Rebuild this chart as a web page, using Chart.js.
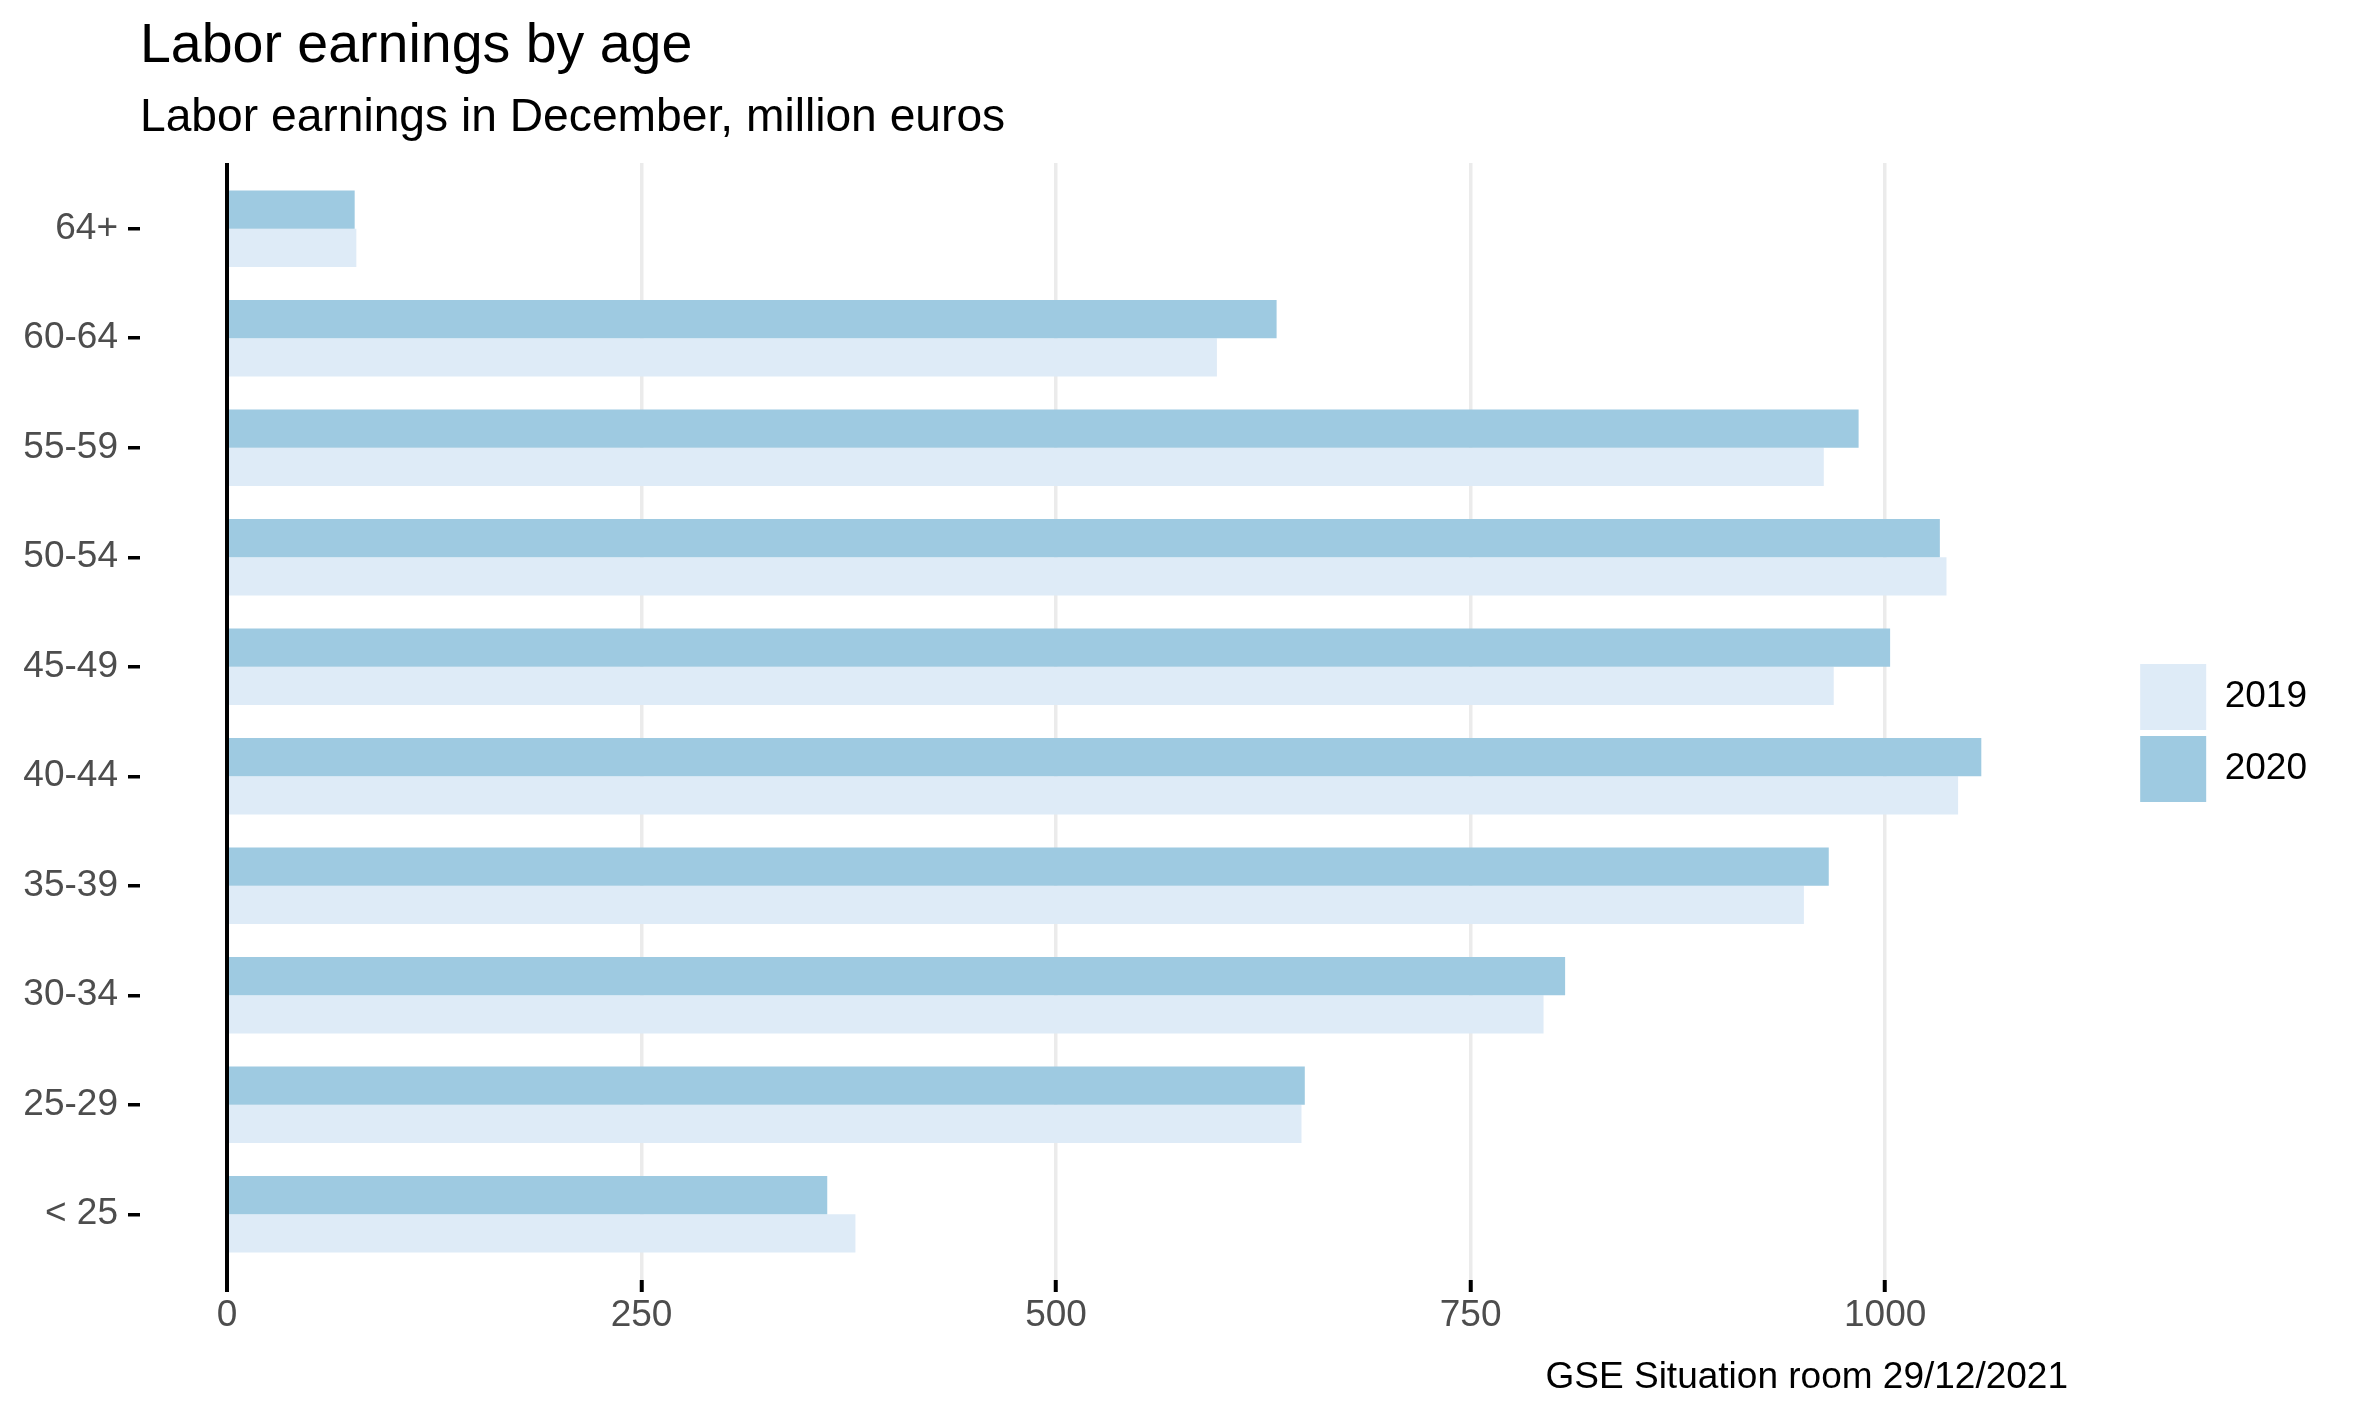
<!DOCTYPE html>
<html lang="en">
<head>
<meta charset="UTF-8">
<title>Labor earnings by age</title>
<script src="https://cdn.jsdelivr.net/npm/chart.js@4.4.0/dist/chart.umd.min.js"></script>
<style>
    body {
        margin: 0;
        background: #ffffff;
        font-family: "Liberation Sans", Arial, sans-serif;
    }

    .wrap {
        position: relative;
        width: 2362px;
        height: 1417px;
    }

    .caption {
        position: absolute;
        right: 294px;
        top: 1357px;
        font-size: 37px;
        line-height: 37px;
        color: #000;
        white-space: nowrap;
    }
</style>
</head>
<body>
<div class="wrap">
    <canvas id="chart"></canvas>
    <div class="caption">GSE Situation room 29/12/2021</div>
</div>

<script>
    // Age groups, top to bottom
    const ageGroups = ['64+', '60-64', '55-59', '50-54', '45-49', '40-44', '35-39', '30-34', '25-29', '< 25'];

    // Labor earnings in December, million euros
    const earnings2019 = [78, 597, 963, 1037, 969, 1044, 951, 794, 648, 379];
    const earnings2020 = [77, 633, 984, 1033, 1003, 1058, 966, 807, 650, 362];

    const xTicks = [0, 250, 500, 750, 1000];

    const font = '"Liberation Sans", Arial, sans-serif';
    const colors = {
        y2019: '#DEEBF7',
        y2020: '#9ECAE1',
        grid: '#EBEBEB',
        axisText: '#4D4D4D'
    };

    const toPoints = values => values.map((v, i) => ({ x: v, y: i }));

    new Chart(document.getElementById('chart'), {
        type: 'bar',
        data: {
            datasets: [
                {
                    label: '2020',
                    data: toPoints(earnings2020),
                    backgroundColor: colors.y2020,
                    borderWidth: 0,
                    categoryPercentage: 0.7,
                    barPercentage: 1.0
                },
                {
                    label: '2019',
                    data: toPoints(earnings2019),
                    backgroundColor: colors.y2019,
                    borderWidth: 0,
                    categoryPercentage: 0.7,
                    barPercentage: 1.0
                }
            ]
        },
        options: {
            indexAxis: 'y',
            responsive: true,
            maintainAspectRatio: false,
            animation: false,
            layout: { padding: { top: 0, right: 45, bottom: 0, left: 0 } },
            plugins: {
                title: {
                    display: true,
                    text: 'Labor earnings by age',
                    align: 'start',
                    fullSize: false,
                    color: '#000',
                    font: { size: 55.5, weight: 'normal', family: font },
                    padding: { top: 13.5, bottom: 0 }
                },
                subtitle: {
                    display: true,
                    text: 'Labor earnings in December, million euros',
                    align: 'start',
                    fullSize: false,
                    color: '#000',
                    font: { size: 46.2, weight: 'normal', family: font },
                    padding: { top: 10.2, bottom: 17.3 }
                },
                legend: {
                    position: 'right',
                    align: 'start',
                    reverse: true,
                    // empty title used as a spacer to push the keys down to the middle
                    title: {
                        display: true,
                        text: '',
                        padding: { top: 648, bottom: 0 },
                        font: { size: 10, lineHeight: 1 }
                    },
                    labels: {
                        boxWidth: 66,
                        boxHeight: 66,
                        padding: 6,
                        color: '#000',
                        font: { size: 37, family: font }
                    }
                },
                tooltip: { enabled: false }
            },
            scales: {
                x: {
                    type: 'linear',
                    min: -52.47,
                    max: 1150.2,
                    afterBuildTicks: s => { s.ticks = xTicks.map(v => ({ value: v })); },
                    afterFit: s => { s.height = 137; },
                    border: { display: false },
                    grid: {
                        color: c => (c.tick && c.tick.value === 0) ? '#000' : colors.grid,
                        lineWidth: c => (c.tick && c.tick.value === 0) ? 4 : 3.5,
                        tickColor: '#000',
                        tickWidth: 4,
                        tickLength: 12
                    },
                    ticks: {
                        color: colors.axisText,
                        font: { size: 37, family: font },
                        padding: 2,
                        maxRotation: 0,
                        callback: v => String(v)
                    }
                },
                y: {
                    type: 'linear',
                    reverse: true,
                    offset: false,
                    min: -0.6,
                    max: 9.6,
                    afterBuildTicks: s => { s.ticks = ageGroups.map((a, i) => ({ value: i })); },
                    afterFit: s => { s.width = 140; },
                    border: { display: false },
                    grid: {
                        offset: false,
                        drawOnChartArea: false,
                        drawTicks: true,
                        tickLength: 12,
                        tickColor: '#000',
                        tickWidth: 3.5,
                        lineWidth: 3.5
                    },
                    ticks: {
                        color: colors.axisText,
                        font: { size: 37, family: font },
                        padding: 10,
                        callback: v => ageGroups[v]
                    }
                }
            }
        }
    });
</script>
</body>
</html>
